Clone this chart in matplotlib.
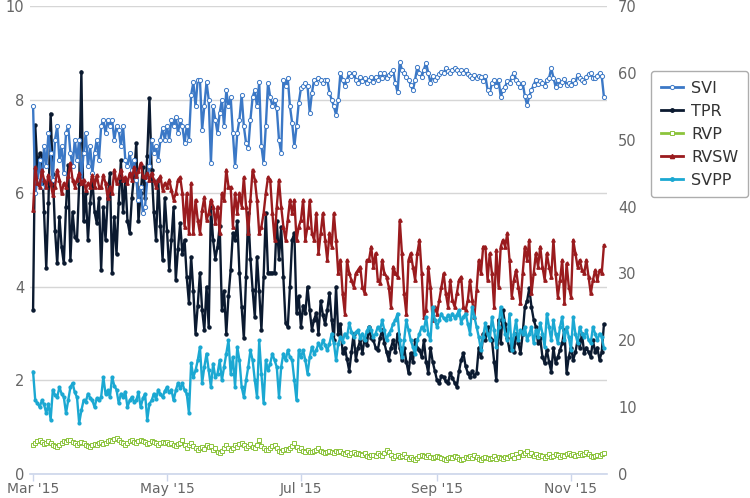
import matplotlib
matplotlib.use("Agg")
import matplotlib.pyplot as plt
import matplotlib.dates as mdates
from matplotlib.lines import Line2D
import pandas as pd

# daily readings, 1 Mar 2015 - 16 Nov 2015
dates = pd.date_range("2015-03-01", "2015-11-16", freq="D")

# right axis (0-70)
svi = (
    [55, 42, 44, 47, 43, 49, 46, 51, 48, 44, 50, 52, 47, 49, 45, 51, 52, 48, 46, 50, 47, 50, 44, 48, 51, 46, 49, 45, 48, 50, 47]  # Mar
    + [52, 53, 51, 53, 52, 53, 50, 52, 51.5, 49, 52, 47, 46, 48, 45.5, 47, 44, 41, 43, 39, 40, 44, 46, 50, 48, 49, 47, 50, 51.7, 50]  # Apr
    + [52, 50, 53, 52, 53.4, 51, 53, 52, 49.5, 52, 50, 56.7, 58.6, 55, 59, 59, 51.5, 55, 58.6, 56, 46.5, 55, 53, 51, 54, 56, 52, 57.4, 55, 56.4, 51]  # May
    + [46, 51, 53, 56.7, 52, 49.5, 48.7, 53, 56.4, 57.4, 55, 58.6, 49, 46.5, 52, 58.5, 56.4, 55, 56, 54.7, 50, 48, 59, 58, 59.2, 55, 52.5, 49, 52, 55.5]  # Jun
    + [57.7, 58, 58.5, 58, 54, 57, 59, 58.5, 59.3, 59, 58.5, 59, 59, 57, 56, 55, 53.7, 56, 60, 59, 58, 59, 60, 59.5, 60, 59, 58.5, 59.4, 58.8, 59.2, 58.5]  # Jul
    + [59, 59.4, 58.6, 59.4, 59, 60, 59.3, 60, 59.2, 59.7, 60, 60.4, 58.5, 57.1, 61.6, 60.5, 60, 59.4, 59, 58.2, 57.4, 59, 60.9, 60, 59.4, 60.5, 61.5, 60, 58.5, 59.5, 59]  # Aug
    + [59.4, 59.8, 60.2, 60, 60.7, 60.3, 60, 60.5, 60.7, 60.4, 60, 60.4, 60, 60.4, 59.9, 59.5, 59.2, 59.7, 59.2, 59.6, 59.4, 58.8, 59.5, 57.5, 57, 58.5, 59, 58, 59, 56.4]  # Sep
    + [57.5, 57.9, 58.8, 58.5, 59.4, 60, 59, 58.5, 57.9, 58.5, 56.5, 55.2, 56.5, 57.4, 58.2, 59, 58.3, 58.8, 58.5, 58, 59, 59.2, 60.7, 59.3, 57.9, 58.9, 58.2, 58.6, 59.1, 58.2, 58.5]  # Oct
    + [58.2, 59, 58.5, 59.7, 59.2, 59, 58.6, 59.4, 59.8, 60, 59.3, 59.2, 59.6, 60, 59.5, 56.4]  # Nov
)

# left axis (0-10)
tpr = (
    [3.5, 7.45, 6.5, 6.85, 6.8, 5.6, 4.4, 5.8, 7.7, 6.4, 5.2, 4.5, 5.5, 4.85, 4.5, 5.7, 6.6, 4.57, 5.6, 5.06, 5.0, 6.2, 8.6, 5.4, 6.0, 5.0, 5.8, 6.3, 5.6, 5.36, 5.9]
    + [4.36, 5.7, 5.0, 5.9, 6.43, 4.3, 5.5, 4.7, 5.8, 6.7, 5.6, 6.3, 5.4, 5.15, 5.9, 6.4, 7.07, 5.4, 6.0, 6.56, 5.9, 6.8, 8.03, 6.5, 5.6, 5.0, 6.28, 5.3, 4.57, 5.9]
    + [5.2, 4.36, 5.0, 5.7, 4.15, 4.8, 5.36, 4.7, 5.0, 4.2, 3.65, 4.64, 3.9, 3.0, 3.6, 4.3, 3.5, 3.08, 4.0, 3.14, 5.7, 5.0, 4.6, 4.85, 5.3, 3.5, 3.9, 3.0, 3.8, 4.36, 5.15]
    + [5.0, 5.4, 4.3, 3.57, 2.9, 4.2, 5.58, 4.6, 3.93, 3.35, 4.64, 3.9, 3.08, 4.2, 5.58, 4.3, 4.3, 4.3, 4.3, 5.4, 4.6, 5.28, 4.2, 3.23, 3.14, 4.0, 5.0, 5.15, 3.44, 3.8]
    + [3.14, 3.6, 3.44, 4.0, 3.5, 3.08, 3.3, 3.44, 3.0, 3.7, 3.4, 3.2, 3.5, 3.87, 3.3, 2.86, 4.0, 3.0, 3.2, 2.58, 2.7, 2.45, 2.2, 2.6, 3.0, 2.44, 2.7, 2.86, 2.58, 2.9, 2.75]
    + [3.14, 2.9, 2.86, 2.7, 2.65, 2.9, 3.08, 2.8, 2.6, 2.44, 2.7, 2.86, 2.6, 3.0, 2.7, 2.44, 2.7, 2.4, 2.16, 2.58, 2.4, 2.86, 2.7, 2.65, 2.5, 2.86, 2.4, 2.16, 2.7, 2.4, 2.2]
    + [2.0, 1.94, 2.1, 2.07, 1.98, 1.94, 2.16, 2.05, 1.95, 1.86, 2.2, 2.44, 2.58, 2.3, 2.16, 2.07, 2.2, 2.1, 2.16, 2.7, 2.5, 3.0, 2.86, 3.14, 2.9, 2.86, 2.4, 2.0, 3.3, 2.8]
    + [3.5, 3.2, 2.9, 2.65, 2.8, 2.6, 3.0, 2.8, 2.58, 3.0, 3.57, 3.7, 3.97, 3.57, 3.3, 3.14, 2.8, 2.9, 2.5, 2.37, 2.65, 2.4, 2.18, 2.7, 2.37, 2.5, 2.65, 2.8, 3.08, 2.16, 2.5]
    + [2.7, 2.44, 2.6, 2.86, 2.7, 3.0, 2.58, 2.7, 2.6, 2.5, 2.86, 2.6, 2.7, 2.44, 2.6, 3.2]
)

rvp = (
    [0.62, 0.66, 0.70, 0.73, 0.68, 0.64, 0.66, 0.70, 0.66, 0.62, 0.60, 0.58, 0.62, 0.66, 0.70, 0.68, 0.72, 0.73, 0.69, 0.66, 0.63, 0.66, 0.69, 0.66, 0.62, 0.60, 0.58, 0.61, 0.64, 0.62, 0.66]
    + [0.68, 0.64, 0.66, 0.70, 0.73, 0.70, 0.74, 0.77, 0.72, 0.69, 0.66, 0.62, 0.66, 0.70, 0.73, 0.69, 0.66, 0.70, 0.73, 0.71, 0.68, 0.64, 0.66, 0.70, 0.68, 0.66, 0.62, 0.66, 0.69, 0.66]
    + [0.68, 0.64, 0.66, 0.62, 0.60, 0.64, 0.66, 0.73, 0.62, 0.56, 0.62, 0.66, 0.60, 0.56, 0.51, 0.56, 0.58, 0.54, 0.62, 0.58, 0.60, 0.51, 0.56, 0.48, 0.45, 0.50, 0.56, 0.62, 0.56, 0.52, 0.56]
    + [0.62, 0.58, 0.64, 0.66, 0.62, 0.56, 0.60, 0.64, 0.58, 0.56, 0.62, 0.73, 0.60, 0.56, 0.52, 0.51, 0.56, 0.60, 0.62, 0.55, 0.50, 0.47, 0.52, 0.54, 0.51, 0.56, 0.60, 0.66, 0.58, 0.51]
    + [0.55, 0.50, 0.47, 0.52, 0.48, 0.47, 0.50, 0.52, 0.56, 0.50, 0.47, 0.45, 0.48, 0.50, 0.46, 0.45, 0.49, 0.47, 0.50, 0.45, 0.43, 0.47, 0.41, 0.44, 0.46, 0.42, 0.45, 0.43, 0.40, 0.44, 0.38]
    + [0.36, 0.40, 0.41, 0.38, 0.44, 0.41, 0.38, 0.45, 0.51, 0.46, 0.40, 0.34, 0.38, 0.40, 0.36, 0.39, 0.42, 0.36, 0.33, 0.36, 0.32, 0.30, 0.34, 0.38, 0.41, 0.38, 0.36, 0.40, 0.37, 0.34, 0.36]
    + [0.38, 0.36, 0.34, 0.32, 0.30, 0.34, 0.36, 0.34, 0.38, 0.36, 0.32, 0.30, 0.33, 0.36, 0.34, 0.38, 0.35, 0.41, 0.36, 0.33, 0.30, 0.34, 0.37, 0.34, 0.31, 0.35, 0.38, 0.33, 0.36, 0.34]
    + [0.32, 0.36, 0.34, 0.38, 0.41, 0.35, 0.42, 0.37, 0.47, 0.40, 0.45, 0.50, 0.41, 0.45, 0.39, 0.42, 0.36, 0.40, 0.38, 0.35, 0.38, 0.42, 0.37, 0.39, 0.43, 0.40, 0.36, 0.41, 0.38, 0.42, 0.45]
    + [0.40, 0.43, 0.38, 0.41, 0.44, 0.40, 0.42, 0.46, 0.43, 0.39, 0.36, 0.38, 0.41, 0.39, 0.42, 0.45]
)

# right axis (0-70)
rvsw = (
    [39.5, 45.9, 43.5, 42.9, 45.5, 44, 42.9, 44.7, 43.5, 41.7, 43, 45.5, 44, 42, 43.5, 42.9, 44.5, 46.5, 44, 43, 44, 45, 43.5, 44, 42.5, 43.5, 42.9, 44.7, 43, 44.7, 43]
    + [42.9, 44.7, 43.5, 41.3, 43, 42, 45.5, 43.5, 44.4, 45.5, 44, 44.4, 43.5, 45, 44, 45.9, 44.5, 45.3, 46.5, 44.5, 44.4, 45, 44, 45, 44, 42.9, 44, 44.5, 42.5, 43.5]
    + [42.9, 44, 42.5, 41, 42, 44, 44.4, 42, 37, 42, 36, 43.5, 36, 41, 38, 36, 39.5, 41.4, 38, 39, 41, 40, 37.5, 40, 36, 42, 41, 45.5, 43, 42.9, 37]
    + [42, 39, 42, 40, 44.4, 40, 36, 41, 45.5, 44, 41, 36, 37, 39, 42, 44.4, 44, 39, 35, 40, 44, 40, 37, 35, 38, 41, 39, 41, 35, 37]
    + [38, 41, 35, 37, 41, 36, 35, 39, 33, 36, 39, 35, 32, 36, 34, 39, 35, 30, 32, 27, 24, 32, 30, 29, 28, 30, 30.5, 31, 28, 27, 32]
    + [32, 34, 31, 33, 29, 28.6, 32, 30, 29.5, 28, 25, 31, 30, 29.5, 38, 33, 27, 24, 32, 33, 31, 29, 33, 35, 30, 23.5, 24.5, 31, 28, 23, 25]
    + [24, 26, 28, 30, 27, 25, 29, 26, 25, 27, 29, 29.5, 25, 24.5, 26, 29, 26, 23.5, 27.5, 32, 30, 34, 34, 29, 33, 30, 25, 33.5, 28, 34]
    + [35, 34, 36, 32, 26.5, 29, 30.5, 28, 25.6, 30, 34, 32, 35, 27, 30, 33, 31, 34, 31, 29, 33, 31, 29.5, 35, 30, 26.5, 29, 32, 25.6, 31.5, 28]
    + [26.5, 35, 33, 31, 32, 30.5, 30, 32, 29.5, 27, 29, 30.5, 29, 30.5, 30, 34.2]
)

svpp = (
    [15.3, 11, 10.6, 10, 11, 10.4, 9.1, 10.5, 8.1, 12.6, 11.8, 11.5, 13, 12, 11.5, 9.1, 11, 13, 13.6, 12.2, 11.5, 7.6, 9.5, 11, 10.8, 12, 11.4, 11, 10, 11.3, 11]
    + [11.5, 14.5, 12, 12.5, 11.5, 14.5, 13.2, 12.6, 10.6, 12, 11.5, 12.3, 10, 11, 11.5, 10.8, 11, 12.2, 10, 11.3, 12, 8.1, 10.5, 11, 12, 11.2, 12.6, 11.9, 11.5, 12.4]
    + [13, 12.2, 12.6, 11, 12.5, 13.6, 12.8, 13.6, 12.5, 12, 9.1, 16.6, 14.5, 15.5, 17, 19, 13.6, 16, 18, 15.5, 13, 16.5, 14.5, 15, 17, 14, 16, 18, 20, 15, 17.5]
    + [13, 19, 17, 13, 11.5, 14, 16, 18.5, 17, 14, 11.5, 20, 15, 10.6, 17, 15.5, 16.5, 18, 17, 16, 11.5, 16, 18, 17, 18.5, 17.5, 17, 14, 11, 18.5]
    + [17.5, 18.5, 17, 15, 17.5, 19, 18, 18.5, 19.6, 18.8, 20, 19.3, 18.5, 19.5, 21, 19.6, 17, 19.5, 20.5, 19.8, 21, 20.5, 22.6, 21.3, 20.5, 21.2, 21.5, 20.4, 21, 20, 21.4]
    + [22, 21.5, 20.5, 21, 22, 21.5, 23, 21.5, 20, 21, 21.5, 22.5, 23, 24, 20, 17.5, 20, 23, 21.5, 20, 19, 18, 20, 21, 22, 21.5, 23.5, 21, 20, 25, 23]
    + [22, 23, 24, 23.3, 23, 23.8, 23.2, 24, 23.4, 23.8, 24.5, 22.6, 23.5, 24, 22.5, 21, 25, 23.5, 22, 20.5, 18.5, 20.5, 22.6, 21, 20, 23.5, 21.5, 19, 22, 25]
    + [23, 21, 20, 24, 18.5, 21, 23, 20, 21.5, 21, 22, 20, 21, 22, 19.6, 21.5, 20.5, 22.6, 21, 19, 24, 22, 20, 23, 21, 19.6, 22, 23.5, 20, 22, 20.5]
    + [18.5, 23.5, 21, 19.6, 22, 21, 20.5, 21.5, 20, 19.6, 22, 21, 20, 21, 20.5, 18.8]
)

for s in (svi, tpr, rvp, rvsw, svpp):
    assert len(s) == len(dates), len(s)

tick_dates = pd.to_datetime(["2015-03-01", "2015-05-01", "2015-07-01", "2015-09-01", "2015-11-01"])
tick_labels = ["Mar '15", "May '15", "Jul '15", "Sep '15", "Nov '15"]

grey = "#666666"
axis_col = "#ccd6eb"

fig = plt.figure(figsize=(7.5, 4.98), dpi=100)
ax = fig.add_axes([30 / 750, 24 / 498, 577 / 750, 468 / 498])
ax2 = ax.twinx()

lw = 1.7
ax.plot(dates, tpr, color="#0b1a30", lw=lw, marker="o", ms=2.2, zorder=3)
ax.plot(dates, rvp, color="#8cc43c", lw=lw, marker="s", ms=2.6, mfc="white", mew=0.7, zorder=3)
ax2.plot(dates, svi, color="#3b78c6", lw=lw, marker="o", ms=3.0, mfc="white", mew=0.7, zorder=3)
ax2.plot(dates, rvsw, color="#9a1b1e", lw=lw, marker="^", ms=2.4, zorder=3)
ax2.plot(dates, svpp, color="#1ba8d2", lw=lw, marker="o", ms=2.0, zorder=4)

x0 = mdates.date2num(dates[0]) - 1.4
x1 = mdates.date2num(dates[-1]) + 1.4
ax.set_xlim(x0, x1)
ax.set_ylim(0, 10)
ax2.set_ylim(0, 70)

ax.set_xticks(tick_dates)
ax.set_xticklabels(tick_labels)
ax.set_yticks(range(0, 11, 2))
ax2.set_yticks(range(0, 71, 10))

ax.tick_params(axis="x", length=5, width=1, color=axis_col, labelcolor=grey, labelsize=10, pad=1)
ax.tick_params(axis="y", length=0, labelcolor=grey, labelsize=10.5, pad=4)
ax2.tick_params(axis="y", length=0, labelcolor=grey, labelsize=10.5, pad=8)

ax.grid(axis="y", color="#d6d6d6", lw=1)
ax.set_axisbelow(True)
for side in ("top", "left", "right"):
    ax.spines[side].set_visible(False)
ax.spines["bottom"].set_color(axis_col)
ax.spines["bottom"].set_linewidth(1.2)
for sp in ax2.spines.values():
    sp.set_visible(False)

handles = [
    Line2D([], [], color="#3b78c6", lw=2, marker="o", ms=3, mfc="white", mew=0.7),
    Line2D([], [], color="#0b1a30", lw=2, marker="o", ms=2.5),
    Line2D([], [], color="#8cc43c", lw=2, marker="s", ms=3, mfc="white", mew=0.7),
    Line2D([], [], color="#9a1b1e", lw=2, marker="^", ms=3),
    Line2D([], [], color="#1ba8d2", lw=2, marker="o", ms=2.5),
]
leg = fig.legend(handles, ["SVI", "TPR", "RVP", "RVSW", "SVPP"],
                 loc="upper left", bbox_to_anchor=(651 / 750, 1 - 71 / 498),
                 fontsize=11.5, frameon=True, fancybox=True, borderaxespad=0,
                 handlelength=1.4, handletextpad=0.5, labelspacing=0.5,
                 borderpad=0.6)
leg.get_frame().set_edgecolor("#999999")
leg.get_frame().set_linewidth(1)
for t in leg.get_texts():
    t.set_color("#333333")

fig.savefig("out.png", dpi=100)
